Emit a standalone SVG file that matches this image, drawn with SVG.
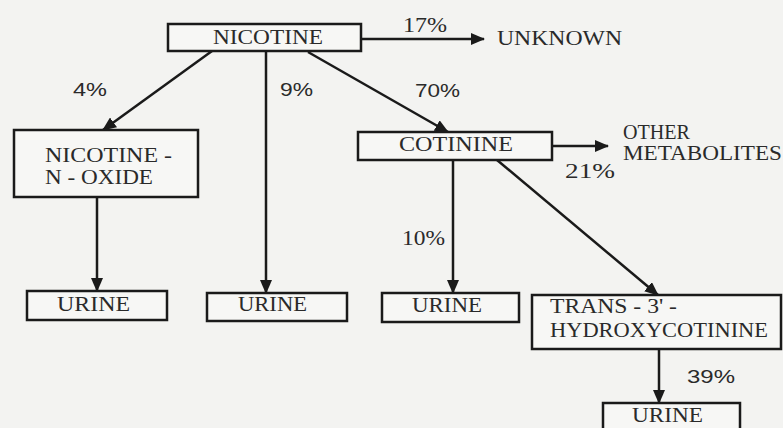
<svg xmlns="http://www.w3.org/2000/svg" width="783" height="428" viewBox="0 0 783 428">
<style>
.box{fill:#f7f7f5;stroke:#1a1a1a;stroke-width:2.5}
.lbl{font-family:"Liberation Serif","DejaVu Serif",serif;font-size:20px;fill:#2a2a2a}
.pct{font-family:"Liberation Sans","DejaVu Sans",sans-serif;font-size:18px;fill:#2a2a2a}
.pcs{font-family:"Liberation Serif","DejaVu Serif",serif;font-size:20px;fill:#2a2a2a}
.con line{stroke:#1a1a1a;stroke-width:2.5;fill:none;marker-end:url(#ah)}
</style>
<defs>
<marker id="ah" markerUnits="userSpaceOnUse" markerWidth="14" markerHeight="12" refX="13" refY="6" orient="auto">
<path d="M0,0 L14,6 L0,12 Z" fill="#1a1a1a"/>
</marker>
</defs>
<rect width="783" height="428" fill="#f3f3f1"/>
<g id="connectors" class="con">
<line x1="361" y1="39" x2="484" y2="39"/>
<line x1="212" y1="51" x2="103" y2="130"/>
<line x1="266" y1="51" x2="266" y2="293"/>
<line x1="308" y1="52" x2="448" y2="132"/>
<line x1="97" y1="197" x2="97" y2="291"/>
<line x1="552" y1="146" x2="608" y2="146"/>
<line x1="453" y1="160" x2="453" y2="293"/>
<line x1="497" y1="160" x2="658" y2="295"/>
<line x1="659" y1="349" x2="659" y2="403"/>
</g>
<g id="labels">
<text class="pcs" x="403" y="32" textLength="44" lengthAdjust="spacingAndGlyphs">17%</text>
<text class="pct" x="73" y="96" textLength="34" lengthAdjust="spacingAndGlyphs">4%</text>
<text class="pct" x="280" y="96" textLength="33" lengthAdjust="spacingAndGlyphs">9%</text>
<text class="pct" x="415" y="97" textLength="45" lengthAdjust="spacingAndGlyphs">70%</text>
<text class="pcs" x="565" y="178" textLength="50" lengthAdjust="spacingAndGlyphs">21%</text>
<text class="pcs" x="402" y="245" textLength="43" lengthAdjust="spacingAndGlyphs">10%</text>
<text class="pct" x="687" y="383" textLength="48" lengthAdjust="spacingAndGlyphs">39%</text>
</g>
<g id="nicotine">
<rect class="box" x="168" y="24" width="193" height="27"/>
<text class="lbl" x="213" y="44" textLength="110" lengthAdjust="spacingAndGlyphs">NICOTINE</text>
</g>
<g id="unknown">
<text class="lbl" x="497" y="45" textLength="125" lengthAdjust="spacingAndGlyphs">UNKNOWN</text>
</g>
<g id="n-oxide">
<rect class="box" x="14" y="130" width="184" height="67"/>
<text class="lbl" x="45" y="162" textLength="127" lengthAdjust="spacingAndGlyphs">NICOTINE -</text>
<text class="lbl" x="45" y="184" textLength="108" lengthAdjust="spacingAndGlyphs">N - OXIDE</text>
</g>
<g id="cotinine">
<rect class="box" x="358" y="132" width="194" height="28"/>
<text class="lbl" x="399" y="151" textLength="114" lengthAdjust="spacingAndGlyphs">COTININE</text>
</g>
<g id="other">
<text class="lbl" x="623" y="139" textLength="67" lengthAdjust="spacingAndGlyphs">OTHER</text>
<text class="lbl" x="623" y="160" textLength="159" lengthAdjust="spacingAndGlyphs">METABOLITES</text>
</g>
<g id="urine1">
<rect class="box" x="27" y="291" width="140" height="29"/>
<text class="lbl" x="57" y="311" textLength="73" lengthAdjust="spacingAndGlyphs">URINE</text>
</g>
<g id="urine2">
<rect class="box" x="207" y="293" width="140" height="28"/>
<text class="lbl" x="238" y="311" textLength="69" lengthAdjust="spacingAndGlyphs">URINE</text>
</g>
<g id="urine3">
<rect class="box" x="382" y="293" width="137" height="29"/>
<text class="lbl" x="412" y="312" textLength="70" lengthAdjust="spacingAndGlyphs">URINE</text>
</g>
<g id="trans">
<rect class="box" x="532" y="295" width="249" height="54"/>
<text class="lbl" x="550" y="313" textLength="127" lengthAdjust="spacingAndGlyphs">TRANS - 3' -</text>
<text class="lbl" x="550" y="337" textLength="218" lengthAdjust="spacingAndGlyphs">HYDROXYCOTININE</text>
</g>
<g id="urine4">
<rect class="box" x="603" y="403" width="137" height="30"/>
<text class="lbl" x="632" y="422" textLength="71" lengthAdjust="spacingAndGlyphs">URINE</text>
</g>
</svg>
